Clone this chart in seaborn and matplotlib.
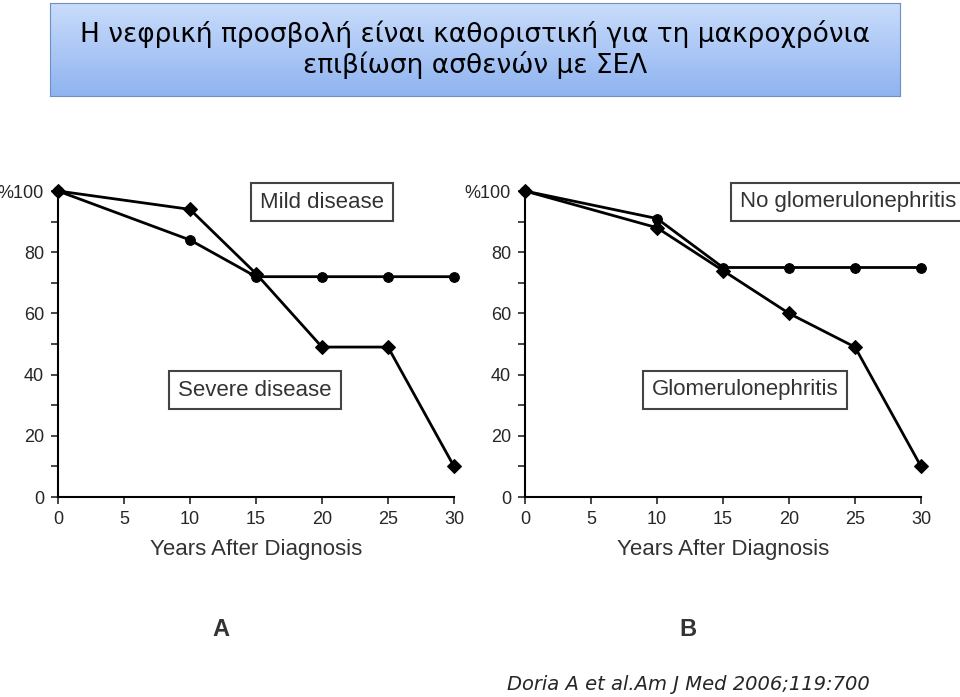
import numpy as np
import pandas as pd
import matplotlib.pyplot as plt
import seaborn as sns

years = [0, 10, 15, 20, 25, 30]
mild = [100, 84, 72, 72, 72, 72]
severe = [100, 94, 73, 49, 49, 10]
no_gn = [100, 91, 75, 75, 75, 75]
gn = [100, 88, 74, 60, 49, 10]

sns.set_style("white")
plt.rcParams["font.family"] = ["Liberation Sans Narrow", "Liberation Sans", "DejaVu Sans"]
fig = plt.figure(figsize=(9.6, 6.97), dpi=100)

# title box with light blue gradient
tax = fig.add_axes([50/960, 1-96/697, 850/960, 93/697])
grad = np.linspace(0, 1, 100).reshape(-1, 1)
tax.imshow(grad, cmap=plt.matplotlib.colors.LinearSegmentedColormap.from_list("g", ["#c9dcfb", "#8fb4f0"]),
           aspect="auto", extent=[0, 1, 0, 1])
tax.set_xticks([]); tax.set_yticks([])
for s in tax.spines.values():
    s.set_color("#6f8fc0")
tax.text(0.5, 0.5, "Η νεφρική προσβολή είναι καθοριστική για τη μακροχρόνια\nεπιβίωση ασθενών με ΣΕΛ",
         ha="center", va="center", fontsize=19, family="DejaVu Sans", linespacing=1.15, color="black")

panels = [
    (58, [("Mild disease", mild, "o"), ("Severe disease", severe, "D")],
     [("Mild disease", 322, 202), ("Severe disease", 255, 390)], "A"),
    (525, [("No glomerulonephritis", no_gn, "o"), ("Glomerulonephritis", gn, "D")],
     [("No glomerulonephritis", 848, 202), ("Glomerulonephritis", 745, 390)], "B"),
]

for left, series, boxes, letter in panels:
    ax = fig.add_axes([left/960, 1-497/697, 396/960, 306/697])
    for name, vals, mk in series:
        df = pd.DataFrame({"Years": years, "Pct": vals})
        sns.lineplot(data=df, x="Years", y="Pct", ax=ax, color="black", lw=2,
                     marker=mk, markersize=7, markeredgecolor="black", clip_on=False)
    ax.set_xlim(0, 30)
    ax.set_ylim(0, 100)
    ax.set_xticks([0, 5, 10, 15, 20, 25, 30])
    ax.set_yticks([0, 20, 40, 60, 80, 100])
    ax.set_yticklabels(["0", "20", "40", "60", "80", "%100"])
    ax.set_yticks([10, 30, 50, 70, 90], minor=True)
    ax.tick_params(axis="both", which="both", direction="out", length=5, width=1.2,
                   labelsize=13, left=True, bottom=True, pad=5)
    sns.despine(ax=ax)
    for s in ("left", "bottom"):
        ax.spines[s].set_color("black")
        ax.spines[s].set_linewidth(1.5)
    ax.set_xlabel("Years After Diagnosis", fontsize=16, color="#333333", labelpad=8)
    ax.set_ylabel("")
    for txt, px, py in boxes:
        fig.text(px/960, 1-py/697, txt, ha="center", va="center", fontsize=16, color="#333333",
                 bbox=dict(boxstyle="square,pad=0.4", fc="white", ec="#444444", lw=1.5))
    fig.text((left+163)/960, 1-630/697, letter, ha="center", va="center",
             fontsize=17, fontweight="bold", color="#333333")

fig.text(870/960, 1-685/697, "Doria A et al.Am J Med 2006;119:700", ha="right", va="center",
         fontsize=14, style="italic", family="DejaVu Sans")

fig.savefig("out.png", dpi=100)
